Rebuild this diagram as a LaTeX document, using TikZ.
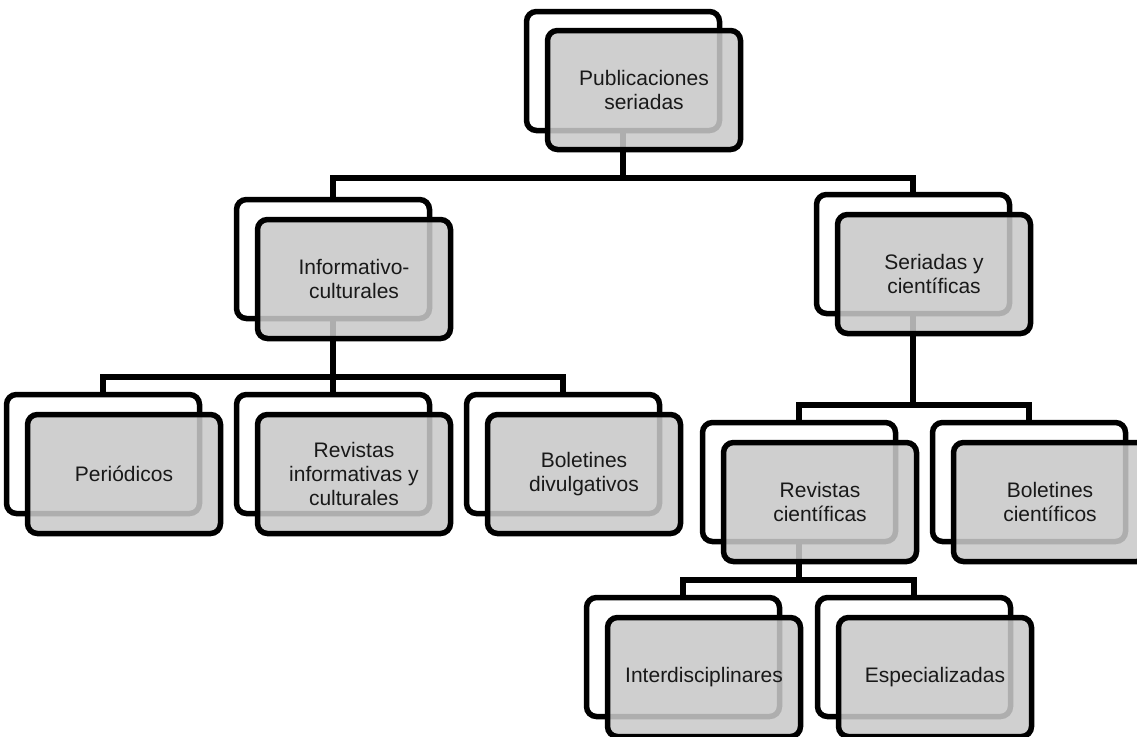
\documentclass[tikz,border=0pt]{standalone}
\usepackage{fontspec}
\setmainfont{Liberation Sans}
\tikzset{
  backbox/.style={draw, line width=5.5pt, rounded corners=10pt, fill=white, minimum width=193pt, minimum height=119pt, inner sep=0pt},
  frontbox/.style={backbox, fill=black!21, fill opacity=.87, text opacity=1, text=black!90, align=center, font=\fontsize{21}{24}\selectfont},
  link/.style={line width=5.5pt}
}
\begin{document}
\begin{tikzpicture}[x=1pt,y=-1pt]
\useasboundingbox (0,0) rectangle (1137,736);
\clip (0,0) rectangle (1137,736);
\foreach \n/\p in {pub/{623,71}, inf/{333,259}, ser/{913,254}, per/{103,454}, revi/{333,454}, bold/{563,454}, revc/{799,482}, bolc/{1029,482}, int/{683,657}, esp/{914,657}}
  \node[backbox] (\n-b) at (\p) {};
\coordinate (bus1) at (0,178);\coordinate (bus2) at (0,377);\coordinate (bus3) at (0,405);\coordinate (bus4) at (0,580);
\draw[link] (pub-b.south) -- (pub-b.south |- bus1) -| (inf-b.north) (pub-b.south |- bus1) -| (ser-b.north);
\draw[link] (inf-b.south) -- (revi-b.north) (inf-b.south |- bus2) -| (per-b.north) (inf-b.south |- bus2) -| (bold-b.north);
\draw[link] (ser-b.south) -- (ser-b.south |- bus3) -| (revc-b.north) (ser-b.south |- bus3) -| (bolc-b.north);
\draw[link] (revc-b.south) -- (revc-b.south |- bus4) -| (int-b.north) (revc-b.south |- bus4) -| (esp-b.north);
\node[frontbox] (pub) at ([shift={(21,19)}]pub-b) {Publicaciones\\seriadas};
\node[frontbox] (inf) at ([shift={(21,20)}]inf-b) {Informativo-\\culturales};
\node[frontbox] (ser) at ([shift={(21,20)}]ser-b) {Seriadas y\\científicas};
\node[frontbox] (per) at ([shift={(21,20)}]per-b) {Periódicos};
\node[frontbox] (revi) at ([shift={(21,20)}]revi-b) {Revistas\\informativas y\\culturales};
\node[frontbox] (bold) at ([shift={(21,20)}]bold-b) {Boletines\\divulgativos};
\node[frontbox] (revc) at ([shift={(21,20)}]revc-b) {Revistas\\científicas};
\node[frontbox] (bolc) at ([shift={(21,20)}]bolc-b) {Boletines\\científicos};
\node[frontbox] (int) at ([shift={(21,20)}]int-b) {Interdisciplinares};
\node[frontbox] (esp) at ([shift={(21,20)}]esp-b) {Especializadas};
\end{tikzpicture}
\end{document}
